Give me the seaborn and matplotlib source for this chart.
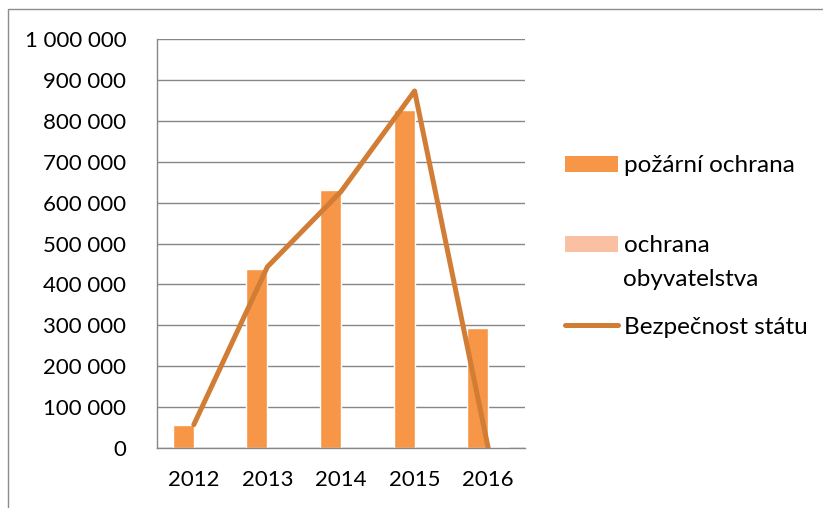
import numpy as np
import pandas as pd
import matplotlib
matplotlib.use("Agg")
import matplotlib.pyplot as plt
import seaborn as sns
from matplotlib.ticker import FuncFormatter, FixedLocator
from matplotlib.patches import Rectangle, Patch
from matplotlib.lines import Line2D

years = ["2012", "2013", "2014", "2015", "2016"]
pozarni = [57000, 438000, 631000, 826000, 294000]
obyvatelstvo = [0, 0, 0, 0, 3000]
bezpecnost = [57000, 443000, 627000, 873000, 0]

bar_colors = ["#F79646", "#F9C0A4"]
line_color = "#D27D35"
grid_color = "#878787"
fs = 16
legend_fs = 17.5

df = pd.DataFrame({
    "rok": years * 2,
    "hodnota": pozarni + obyvatelstvo,
    "serie": ["požární ochrana"] * len(years) + ["ochrana obyvatelstva"] * len(years),
})

sns.set_style("white")
plt.rcParams['font.family'] = ['Lato', 'DejaVu Sans']
plt.rcParams['text.color'] = 'black'

fig = plt.figure(figsize=(8.23, 5.08), dpi=100)
ax = fig.add_axes([157 / 823, 1 - 448 / 508, (525 - 157) / 823, (448 - 39) / 508])

sns.barplot(data=df, x="rok", y="hodnota", hue="serie", palette=bar_colors,
            width=0.57, gap=0, ax=ax, legend=False, saturation=1)
sns.lineplot(x=np.arange(len(years)), y=bezpecnost, color=line_color, linewidth=3.6,
             solid_capstyle="round", solid_joinstyle="round", ax=ax)

ax.set_xlim(-0.5, len(years) - 0.5)
ax.set_ylim(0, 1000000)
ax.set_yticks(np.arange(0, 1000001, 100000))
ax.yaxis.set_major_formatter(FuncFormatter(lambda v, p: f"{int(v):,}".replace(",", " ")))
ax.set_xticks(np.arange(len(years)))
ax.set_xticklabels(years)
ax.xaxis.set_minor_locator(FixedLocator(np.arange(-0.5, len(years), 1.0)))
ax.tick_params(axis="x", which="major", length=0, pad=16, labelsize=fs, labelcolor="black")
ax.tick_params(axis="x", which="minor", length=6, color=grid_color, width=1, direction="out")
ax.tick_params(axis="y", length=6, color=grid_color, width=1, direction="out", pad=16,
               labelsize=fs, labelcolor="black")
ax.set_xlabel("")
ax.set_ylabel("")
ax.grid(axis="y", color=grid_color, linewidth=1)
ax.set_axisbelow(True)
for s in ["top", "right"]:
    ax.spines[s].set_visible(False)
for s in ["left", "bottom"]:
    ax.spines[s].set_color(grid_color)
    ax.spines[s].set_linewidth(1)

# legend entries placed one by one, like the Excel layout
entries = [
    (Patch(facecolor=bar_colors[0], edgecolor="none"), "požární ochrana", 166),
    (Patch(facecolor=bar_colors[1], edgecolor="none"), "ochrana", 246),
    (Line2D([0], [0], color=line_color, linewidth=3.6, solid_capstyle="round"), "Bezpečnost státu", 327),
]
for h, lab, ypix in entries:
    leg = fig.legend([h], [lab], loc="center left", bbox_to_anchor=(565 / 823, 1 - ypix / 508),
                     frameon=False, fontsize=legend_fs, handlelength=2.2, handleheight=0.68,
                     handletextpad=0.22, borderpad=0, borderaxespad=0)
fig.text(623 / 823, 1 - 280 / 508, "obyvatelstva", fontsize=legend_fs, va="center", ha="left")

fig.patches.append(Rectangle((8 / 823, -0.1), 1.2, 1 - 9 / 508 + 0.1, transform=fig.transFigure,
                             fill=False, edgecolor="#8C8C8C", linewidth=1))

fig.savefig("out.png", dpi=100)
